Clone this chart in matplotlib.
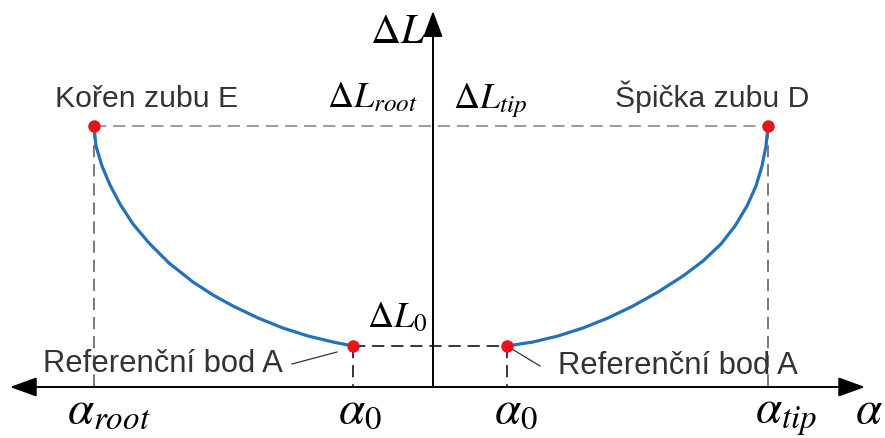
import numpy as np
import matplotlib.pyplot as plt

plt.rcParams['mathtext.fontset'] = 'stix'
plt.rcParams['font.family'] = ['Liberation Sans', 'DejaVu Sans']

# curve branch towards the root (E) and towards the tip (D)
root_alpha = [-339, -337, -331, -323, -313, -300, -284, -264, -240, -220,
              -200, -175, -150, -125, -100, -80]
root_dL = [261, 241, 221, 202, 183, 163, 144, 124, 105, 92,
           81, 69, 59, 51, 45, 41]
tip_alpha = [74, 100, 125, 150, 175, 200, 225, 250, 270, 288,
             302, 314, 323, 329, 333, 335]
tip_dL = [41, 45, 51, 59, 69, 81, 95, 111, 126, 143,
          161, 181, 201, 221, 241, 261]

# characteristic points
alpha_root, alpha_tip = -339, 335
alpha0_left, alpha0_right = -80, 74
dL_top, dL_0 = 261, 41

ink = '#333333'
blue = '#2571b9'
red = '#e8141b'

fig = plt.figure(figsize=(8.85, 4.39), dpi=100)
ax = fig.add_axes([0, 0, 1, 1])
ax.set_xlim(-433, 452)
ax.set_ylim(-51, 388)
ax.axis('off')

# axes with arrows
ax.annotate('', xy=(432, 0), xytext=(-423, 0),
            arrowprops=dict(arrowstyle='<|-|>,head_length=1.65,head_width=0.6',
                            mutation_scale=10, lw=1.4, color='black',
                            shrinkA=0, shrinkB=0))
ax.annotate('', xy=(0, 376), xytext=(0, 0),
            arrowprops=dict(arrowstyle='-|>,head_length=1.6,head_width=0.6',
                            mutation_scale=10, lw=1.4, color='black',
                            shrinkA=0, shrinkB=0))

# guide lines
ax.plot([alpha_root, alpha_tip], [dL_top, dL_top], color='#808080', lw=1.1,
        dashes=(8, 4.5))
ax.plot([alpha_root, alpha_root], [dL_top, 0], color='#555555', lw=1.1, dashes=(8, 4.5))
ax.plot([alpha_tip, alpha_tip], [dL_top, 0], color='#555555', lw=1.1, dashes=(8, 4.5))
ax.plot([alpha0_left, alpha0_right], [dL_0, dL_0], color='black', lw=1.1, dashes=(8, 4.5))
ax.plot([alpha0_left, alpha0_left], [dL_0, 0], color='black', lw=1.1, dashes=(8, 4.5))
ax.plot([alpha0_right, alpha0_right], [dL_0, 0], color='black', lw=1.1, dashes=(8, 4.5))

# the curve
ax.plot(root_alpha, root_dL, color=blue, lw=2.3, solid_capstyle='round',
        solid_joinstyle='round')
ax.plot(tip_alpha, tip_dL, color=blue, lw=2.3, solid_capstyle='round',
        solid_joinstyle='round')

ax.plot([alpha_root, alpha_tip, alpha0_left, alpha0_right],
        [dL_top, dL_top, dL_0, dL_0], 'o', color=red, ms=9, mec='none', zorder=5)

# leader lines
ax.plot([-141, -96], [23, 35], color=ink, lw=0.9)
ax.plot([79, 107], [38, 21], color=ink, lw=0.9)

# descriptive labels
ax.text(-378, 281, 'Kořen zubu E', fontsize=21.7, color=ink, va='baseline')
ax.text(182, 281, 'Špička zubu D', fontsize=21.7, color=ink, va='baseline')
ax.text(-390, 16, 'Referenční bod A', fontsize=22.3, color=ink, va='baseline')
ax.text(125, 14, 'Referenční bod A', fontsize=22.3, color=ink, va='baseline')

# symbols
ax.text(-8, 345, r'$\Delta L$', fontsize=30, ha='right', va='baseline')
ax.text(-15, 281, r'$\Delta L_{root}$', fontsize=26, ha='right', va='baseline')
ax.text(20, 280, r'$\Delta L_{tip}$', fontsize=26, ha='left', va='baseline')
ax.text(-6, 61, r'$\Delta L_0$', fontsize=26, ha='right', va='baseline')
ax.text(-366, -35, r'$\alpha_{root}$', fontsize=34, ha='left', va='baseline')
ax.text(alpha0_left + 7, -35, r'$\alpha_0$', fontsize=34, ha='center', va='baseline')
ax.text(alpha0_right + 9, -35, r'$\alpha_0$', fontsize=34, ha='center', va='baseline')
ax.text(322, -35, r'$\alpha_{tip}$', fontsize=34, ha='left', va='baseline')
ax.text(422, -35, r'$\alpha$', fontsize=34, ha='left', va='baseline')

fig.savefig('out.png', dpi=100)
